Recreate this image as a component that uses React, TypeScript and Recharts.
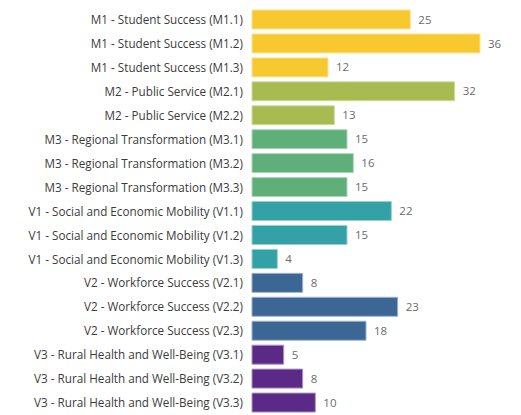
import { BarChart, Bar, XAxis, YAxis, Cell, LabelList } from 'recharts';

const categories = [
  'M1 - Student Success (M1.1)',
  'M1 - Student Success (M1.2)',
  'M1 - Student Success (M1.3)',
  'M2 - Public Service (M2.1)',
  'M2 - Public Service (M2.2)',
  'M3 - Regional Transformation (M3.1)',
  'M3 - Regional Transformation (M3.2)',
  'M3 - Regional Transformation (M3.3)',
  'V1 - Social and Economic Mobility (V1.1)',
  'V1 - Social and Economic Mobility (V1.2)',
  'V1 - Social and Economic Mobility (V1.3)',
  'V2 - Workforce Success (V2.1)',
  'V2 - Workforce Success (V2.2)',
  'V2 - Workforce Success (V2.3)',
  'V3 - Rural Health and Well-Being (V3.1)',
  'V3 - Rural Health and Well-Being (V3.2)',
  'V3 - Rural Health and Well-Being (V3.3)',
];

const counts = [25, 36, 12, 32, 13, 15, 16, 15, 22, 15, 4, 8, 23, 18, 5, 8, 10];

// group of each bar -> colour
const groups = ['M1', 'M1', 'M1', 'M2', 'M2', 'M3', 'M3', 'M3', 'V1', 'V1', 'V1', 'V2', 'V2', 'V2', 'V3', 'V3', 'V3'];

const groupFill: Record<string, string> = {
  M1: '#F7C92F',
  M2: '#A8BB51',
  M3: '#5EAF79',
  V1: '#33A1A6',
  V2: '#3C6694',
  V3: '#5B2A86',
};

const groupStroke: Record<string, string> = {
  M1: '#FBE39A',
  M2: '#D2DCA6',
  M3: '#AED6BB',
  V1: '#98CFD2',
  V2: '#9DB2C9',
  V3: '#AD94C2',
};

const data = categories.map((name, i) => ({ name, count: counts[i], group: groups[i] }));

// plain one-line tick, no wrapping
function CategoryTick(props: any) {
  const { x, y, payload } = props;
  return (
    <text x={x} y={y} dy="0.355em" textAnchor="end" fill="#3b3b3b" fontSize={11.7}>
      {payload.value}
    </text>
  );
}

export default function App() {
  return (
    <div style={{ fontFamily: '"Open Sans", sans-serif' }}>
      <BarChart
        layout="vertical"
        width={513}
        height={407}
        data={data}
        margin={{ top: 0, right: 41, left: 0, bottom: 0 }}
      >
        <XAxis type="number" domain={[0, 36]} hide />
        <YAxis
          type="category"
          dataKey="name"
          width={244}
          tickLine={false}
          axisLine={false}
          interval={0}
          tickMargin={3}
          tick={<CategoryTick />}
        />
        <Bar dataKey="count" barSize={19} isAnimationActive={false}>
          {data.map((d) => (
            <Cell key={d.name} fill={groupFill[d.group]} stroke={groupStroke[d.group]} strokeWidth={1} />
          ))}
          <LabelList dataKey="count" position="right" offset={8} fill="#6b6b6b" fontSize={11.5} />
        </Bar>
      </BarChart>
    </div>
  );
}
